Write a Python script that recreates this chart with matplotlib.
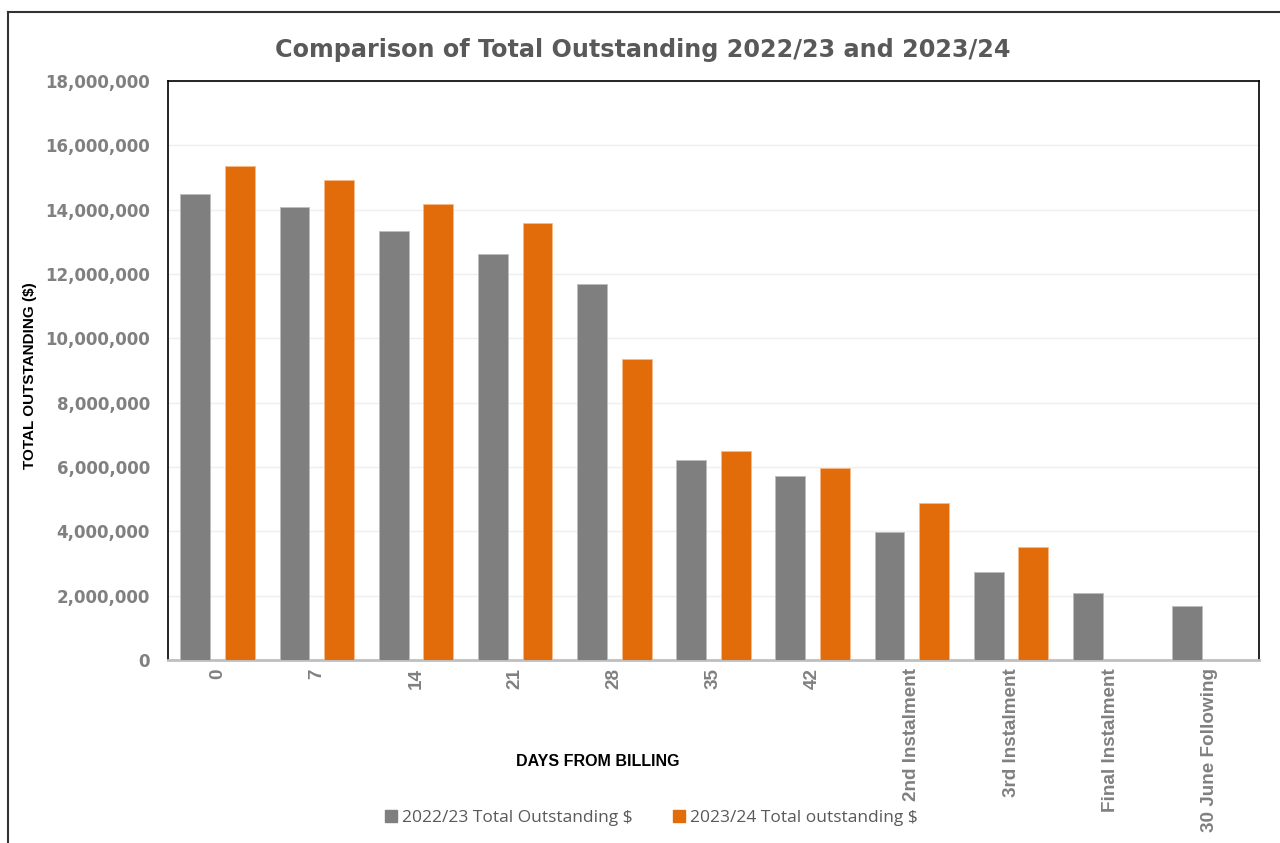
import matplotlib
matplotlib.use("Agg")
import matplotlib.pyplot as plt
import numpy as np
from matplotlib.lines import Line2D
from matplotlib.ticker import FuncFormatter

categories = ["0", "7", "14", "21", "28", "35", "42", "2nd Instalment",
              "3rd Instalment", "Final Instalment", "30 June Following"]
series_2223 = [14480000, 14070000, 13330000, 12630000, 11680000, 6210000,
               5710000, 3970000, 2730000, 2070000, 1680000]
series_2324 = [15370000, 14910000, 14170000, 13570000, 9350000, 6510000,
               5960000, 4870000, 3520000, np.nan, np.nan]
label_2223 = "2022/23 Total Outstanding $"
label_2324 = "2023/24 Total outstanding $"
title = "Comparison of Total Outstanding 2022/23 and 2023/24"
ylabel = "TOTAL OUTSTANDING ($)"
xlabel = "DAYS FROM BILLING"

GRAY = "#7F7F7F"
ORANGE = "#E36C0A"
TXT = "#808080"

fig = plt.figure(figsize=(12.8, 8.43), dpi=100)
ax = fig.add_axes([168/1280, 1-660/843, (1259-168)/1280, (660-81)/843])

x = np.arange(len(categories))
w = 0.30
ax.bar(x - 0.225, series_2223, w, color=GRAY, edgecolor="#BDBDBD", linewidth=0.6, zorder=3)
ax.bar(x + 0.225, series_2324, w, color=ORANGE, edgecolor="#F5B98A", linewidth=0.6, zorder=3)

ax.set_xlim(-0.5, len(categories) - 0.5)
ax.set_ylim(0, 18000000)
ax.set_yticks(np.arange(0, 18000001, 2000000))
ax.yaxis.set_major_formatter(FuncFormatter(lambda v, p: f"{int(v):,}"))
ax.grid(axis="y", color="#EFEFEF", linewidth=1, zorder=0)
ax.set_axisbelow(True)

for s in ["left", "top", "right"]:
    ax.spines[s].set_color("#000000")
    ax.spines[s].set_linewidth(1.2)
ax.spines["bottom"].set_color("#BFBFBF")
ax.spines["bottom"].set_linewidth(2)

ax.tick_params(axis="y", length=0, pad=13, labelcolor=TXT)
ax.tick_params(axis="x", length=0, pad=6, labelcolor=TXT)
for t in ax.get_yticklabels():
    t.set_fontfamily("DejaVu Sans")
    t.set_fontweight("bold")
    t.set_fontsize(12)
ax.set_xticks(x)
ax.set_xticklabels(categories, rotation=90, va="top", ha="center",
                   fontfamily="Liberation Sans", fontweight="bold", fontsize=13.6)

fig.text(643/1280, 1-50/843, title, ha="center", va="center",
         fontfamily="DejaVu Sans", fontweight="bold", fontsize=17.2, color="#595959")
fig.text(30/1280, 1-376/843, ylabel, rotation=90, ha="center", va="center",
         fontfamily="Liberation Sans", fontweight="bold",
         fontsize=11, color="#000000")
fig.text(598/1280, 1-762/843, xlabel, ha="center", va="center",
         fontfamily="Liberation Sans", fontweight="bold",
         fontsize=11.5, color="#000000")

handles = [Line2D([], [], marker="s", linestyle="none", color=GRAY, markersize=8),
           Line2D([], [], marker="s", linestyle="none", color=ORANGE, markersize=8)]
leg = fig.legend(handles, [label_2223, label_2324], loc="center",
                 bbox_to_anchor=(650/1280, 1-818/843), ncol=2, frameon=False,
                 handletextpad=0.1, columnspacing=2.2, handlelength=1.0,
                 prop={"family": "Open Sans", "size": 12.5})
for t in leg.get_texts():
    t.set_color("#595959")

# outer frame lines (top and left)
fig.add_artist(Line2D([8/1280, 1], [1-12/843, 1-12/843], color="#333333", linewidth=1.5,
                      transform=fig.transFigure))
fig.add_artist(Line2D([8/1280, 8/1280], [0, 1-12/843], color="#333333", linewidth=1.5,
                      transform=fig.transFigure))

fig.savefig("out.png", dpi=100)
